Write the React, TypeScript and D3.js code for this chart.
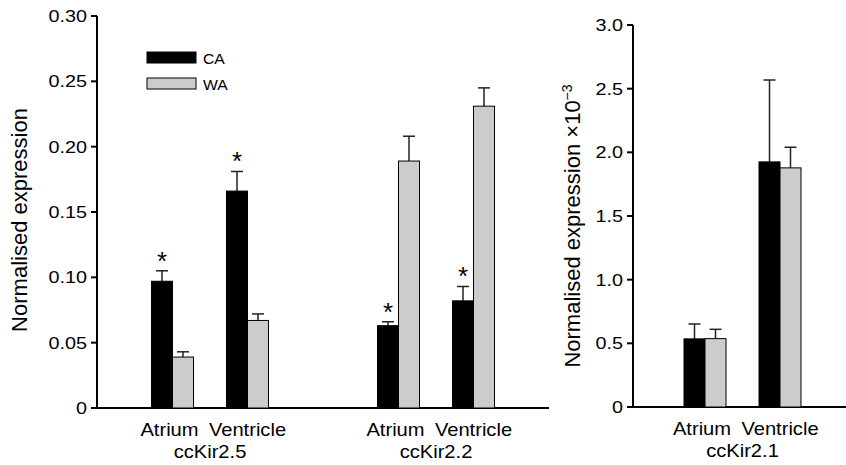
import * as d3 from "d3";

// values
const tissues = ["Atrium", "Ventricle"];
const series = ["CA", "WA"];
const leftGenes = ["ccKir2.5", "ccKir2.2"];
const rightGenes = ["ccKir2.1"];

// mean and upper error (mean + sem), order: gene -> tissue -> series
const leftMeans = [
  [[0.097, 0.039], [0.166, 0.067]],
  [[0.063, 0.189], [0.082, 0.231]],
];
const leftErr = [
  [[0.105, 0.043], [0.181, 0.072]],
  [[0.066, 0.208], [0.093, 0.245]],
];
const leftStars = [
  [[true, false], [true, false]],
  [[true, false], [true, false]],
];
const rightMeans = [[[0.535, 0.537], [1.925, 1.878]]];
const rightErr = [[[0.652, 0.61], [2.568, 2.04]]];

const leftTicks = [0, 0.05, 0.1, 0.15, 0.2, 0.25, 0.3];
const leftTickLabels = ["0", "0.05", "0.10", "0.15", "0.20", "0.25", "0.30"];
const rightTicks = [0, 0.5, 1, 1.5, 2, 2.5, 3];
const rightTickLabels = ["0", "0.5", "1.0", "1.5", "2.0", "2.5", "3.0"];

const colors = { CA: "#000000", WA: "#cccccc" };
const FONT = "'Liberation Sans', Arial, Helvetica, sans-serif";
const SX = 1.2; // the figure's lettering is a bit wide

const Txt = ({ x, y, size, anchor = "middle", children, weight = "normal", sx = SX }: any) => (
  <text
    transform={`translate(${x},${y}) scale(${sx},1)`}
    fontSize={size}
    fontFamily={FONT}
    fontWeight={weight}
    textAnchor={anchor}
    fill="#000"
  >
    {children}
  </text>
);

const Panel = ({ genes, means, errs, stars, ticks, tickLabels, y0, y1, yMax, xL, xR, gx, label }: any) => {
  const y = d3.scaleLinear().domain([0, yMax]).range([y0, y1]);
  const g = d3.scalePoint().domain(genes).range(gx).padding(0.5);
  const t = d3.scaleBand().domain(tissues).range([-58.5, 58.5]).paddingInner(0.44);
  const s = d3.scaleBand().domain(series).range([0, t.bandwidth()]);

  return (
    <g>
      {/* axes */}
      <line x1={xL} x2={xL} y1={y1} y2={y0 + 1} stroke="#000" strokeWidth={2} />
      <line x1={xL - 1} x2={xR} y1={y0} y2={y0} stroke="#000" strokeWidth={2} />
      {ticks.map((v: number, i: number) => (
        <g key={v}>
          <line x1={xL - 6} x2={xL} y1={y(v)} y2={y(v)} stroke="#000" strokeWidth={2} />
          <Txt x={xL - 10} y={y(v) + 6} size={16.5} anchor="end">{tickLabels[i]}</Txt>
        </g>
      ))}
      {genes.map((gene: string, gi: number) => {
        const cx = g(gene)!;
        return (
          <g key={gene}>
            {tissues.map((tis, ti) => {
              const tx = cx + t(tis)!;
              return (
                <g key={tis}>
                  {series.map((ser, si) => {
                    const v = means[gi][ti][si];
                    const e = errs[gi][ti][si];
                    const bx = tx + s(ser)!;
                    const mid = bx + s.bandwidth() / 2;
                    return (
                      <g key={ser}>
                        <line x1={mid} x2={mid} y1={y(v)} y2={y(e)} stroke="#222" strokeWidth={1.5} />
                        <line x1={mid - 6} x2={mid + 6} y1={y(e)} y2={y(e)} stroke="#222" strokeWidth={1.5} />
                        <rect
                          x={bx}
                          y={y(v)}
                          width={s.bandwidth()}
                          height={y(0) - y(v)}
                          fill={(colors as any)[ser]}
                          stroke="#000"
                          strokeWidth={1}
                        />
                        {stars && stars[gi][ti][si] && (
                          <Txt x={mid} y={y(e) - 1} size={26} sx={1}>*</Txt>
                        )}
                      </g>
                    );
                  })}
                  <Txt x={tx + t.bandwidth() / 2 + (ti === 0 ? -3 : 0)} y={y0 + 28} size={17.5} sx={1.15}>{tis}</Txt>
                </g>
              );
            })}
            <Txt x={cx} y={y0 + 50} size={17.5} sx={1.15}>{gene}</Txt>
          </g>
        );
      })}
      {label}
    </g>
  );
};

export default function App() {
  return (
    <svg width={846} height={465} style={{ position: "absolute", left: 0, top: 0, background: "#fff" }}>
      <Panel
        genes={leftGenes}
        means={leftMeans}
        errs={leftErr}
        stars={leftStars}
        ticks={leftTicks}
        tickLabels={leftTickLabels}
        y0={408}
        y1={16}
        yMax={0.3}
        xL={97}
        xR={549}
        gx={[97, 549]}
        label={
          <text transform="translate(27,220) rotate(-90)" fontSize={22} fontFamily={FONT} textAnchor="middle">
            Normalised expression
          </text>
        }
      />
      <Panel
        genes={rightGenes}
        means={rightMeans}
        errs={rightErr}
        stars={null}
        ticks={rightTicks}
        tickLabels={rightTickLabels}
        y0={407}
        y1={25}
        yMax={3}
        xL={633}
        xR={846}
        gx={[633, 852]}
        label={
          <text transform="translate(580,226) rotate(-90)" fontSize={22} fontFamily={FONT} textAnchor="middle">
            Normalised expression{"  "}
            <tspan>×10</tspan>
            <tspan dy={-8} fontSize={14}>−3</tspan>
          </text>
        }
      />
      {/* legend */}
      {series.map((ser, i) => (
        <g key={ser}>
          <rect x={147} y={52 + i * 26} width={49} height={11} fill={(colors as any)[ser]} stroke="#000" strokeWidth={1} />
          <Txt x={203} y={64 + i * 26} size={15} anchor="start" sx={1.05}>{ser}</Txt>
        </g>
      ))}
    </svg>
  );
}
